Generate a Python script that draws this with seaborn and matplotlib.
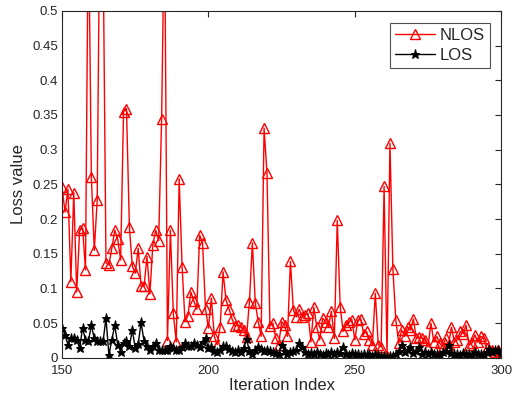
import numpy as np
import pandas as pd
import seaborn as sns
import matplotlib.pyplot as plt

# 迭代序號與兩組損失值
iterations = list(range(150, 301))

nlos_loss = [
    0.246, 0.210, 0.243, 0.110, 0.238, 0.095, 0.184, 0.187, 0.127, 0.650,
    0.261, 0.155, 0.227, 0.700, 0.600, 0.137, 0.134, 0.158, 0.184, 0.171,
    0.141, 0.355, 0.359, 0.188, 0.132, 0.122, 0.158, 0.103, 0.103, 0.146,
    0.092, 0.163, 0.184, 0.169, 0.344, 0.650, 0.025, 0.184, 0.064, 0.023,
    0.258, 0.131, 0.052, 0.061, 0.095, 0.082, 0.070, 0.177, 0.165, 0.070,
    0.043, 0.086, 0.031, 0.019, 0.045, 0.124, 0.083, 0.071, 0.057, 0.046,
    0.048, 0.044, 0.040, 0.030, 0.081, 0.166, 0.079, 0.052, 0.031, 0.331,
    0.266, 0.046, 0.050, 0.029, 0.019, 0.052, 0.047, 0.031, 0.139, 0.069,
    0.059, 0.070, 0.059, 0.062, 0.064, 0.023, 0.073, 0.045, 0.026, 0.057,
    0.052, 0.045, 0.067, 0.028, 0.198, 0.074, 0.038, 0.047, 0.052, 0.055,
    0.026, 0.054, 0.056, 0.035, 0.038, 0.026, 0.019, 0.093, 0.019, 0.016,
    0.247, 0.002, 0.309, 0.128, 0.055, 0.021, 0.040, 0.031, 0.045, 0.040,
    0.056, 0.028, 0.030, 0.028, 0.026, 0.016, 0.050, 0.023, 0.031, 0.021,
    0.016, 0.028, 0.019, 0.044, 0.023, 0.026, 0.038, 0.035, 0.047, 0.019,
    0.021, 0.033, 0.023, 0.031, 0.028, 0.014, 0.011, 0.012, 0.009, 0.011,
    0.008,
]

los_loss = [
    0.043, 0.033, 0.019, 0.028, 0.028, 0.026, 0.014, 0.043, 0.026, 0.024,
    0.047, 0.028, 0.024, 0.024, 0.024, 0.057, 0.004, 0.026, 0.047, 0.019,
    0.009, 0.021, 0.024, 0.017, 0.040, 0.014, 0.020, 0.051, 0.024, 0.017,
    0.012, 0.017, 0.021, 0.012, 0.011, 0.011, 0.012, 0.017, 0.014, 0.012,
    0.012, 0.016, 0.021, 0.017, 0.017, 0.021, 0.019, 0.015, 0.023, 0.028,
    0.014, 0.015, 0.010, 0.008, 0.012, 0.017, 0.017, 0.013, 0.010, 0.008,
    0.012, 0.009, 0.014, 0.027, 0.010, 0.006, 0.012, 0.015, 0.013, 0.010,
    0.012, 0.010, 0.009, 0.007, 0.005, 0.018, 0.010, 0.006, 0.008, 0.010,
    0.012, 0.022, 0.015, 0.009, 0.006, 0.007, 0.005, 0.008, 0.006, 0.004,
    0.007, 0.006, 0.008, 0.005, 0.009, 0.007, 0.015, 0.006, 0.004, 0.007,
    0.005, 0.006, 0.004, 0.005, 0.004, 0.006, 0.003, 0.005, 0.004, 0.003,
    0.002, 0.001, 0.003, 0.002, 0.006, 0.010, 0.019, 0.008, 0.011, 0.016,
    0.007, 0.010, 0.015, 0.006, 0.008, 0.005, 0.009, 0.005, 0.006, 0.004,
    0.008, 0.010, 0.019, 0.007, 0.005, 0.006, 0.004, 0.007, 0.005, 0.006,
    0.004, 0.008, 0.005, 0.006, 0.004, 0.009, 0.013, 0.008, 0.012, 0.011,
    0.007,
]

x_ticks = [150, 200, 250, 300]
y_ticks = [0, 0.05, 0.1, 0.15, 0.2, 0.25, 0.3, 0.35, 0.4, 0.45, 0.5]
y_tick_labels = ['0', '0.05', '0.1', '0.15', '0.2', '0.25', '0.3', '0.35', '0.4', '0.45', '0.5']

df = pd.DataFrame({'iter': iterations, 'NLOS': nlos_loss, 'LOS': los_loss})

sns.set_theme(style="white")
plt.rcParams['font.family'] = ['Liberation Sans', 'DejaVu Sans']

fig = plt.figure(figsize=(5.13, 4.03), dpi=100)
ax = fig.add_axes([0.121, 0.112, 0.856, 0.861])

sns.lineplot(data=df, x='iter', y='NLOS', ax=ax, color='#ff0000', linewidth=1.0,
             marker='^', markersize=7, markerfacecolor='none',
             markeredgecolor='#ff0000', markeredgewidth=1.0, label='NLOS')
sns.lineplot(data=df, x='iter', y='LOS', ax=ax, color='black', linewidth=1.0,
             marker='*', markersize=6.5, markerfacecolor='black',
             markeredgecolor='black', label='LOS')

ax.set_xlim(150, 300)
ax.set_ylim(0, 0.5)
ax.set_xticks(x_ticks)
ax.set_yticks(y_ticks)
ax.set_yticklabels(y_tick_labels)
ax.tick_params(direction='in', length=4, width=0.8, top=True, right=True,
               labelsize=9.5, colors='#262626')
ax.tick_params(axis='x', pad=5)
ax.tick_params(axis='y', pad=3)
for side in ax.spines.values():
    side.set_color('#262626')
    side.set_linewidth(0.8)

ax.set_xlabel('Iteration Index', fontsize=12, color='#262626', labelpad=1)
ax.set_ylabel('Loss value', fontsize=12, color='#262626', labelpad=4)

leg = ax.legend(loc='upper right', fontsize=12, frameon=True, fancybox=False,
                edgecolor='#262626', handlelength=2.4, borderpad=0.3,
                labelspacing=0.3, handletextpad=0.25, borderaxespad=0.7)
leg.get_frame().set_linewidth(0.8)

plt.savefig('out.png', dpi=100)
plt.close()
